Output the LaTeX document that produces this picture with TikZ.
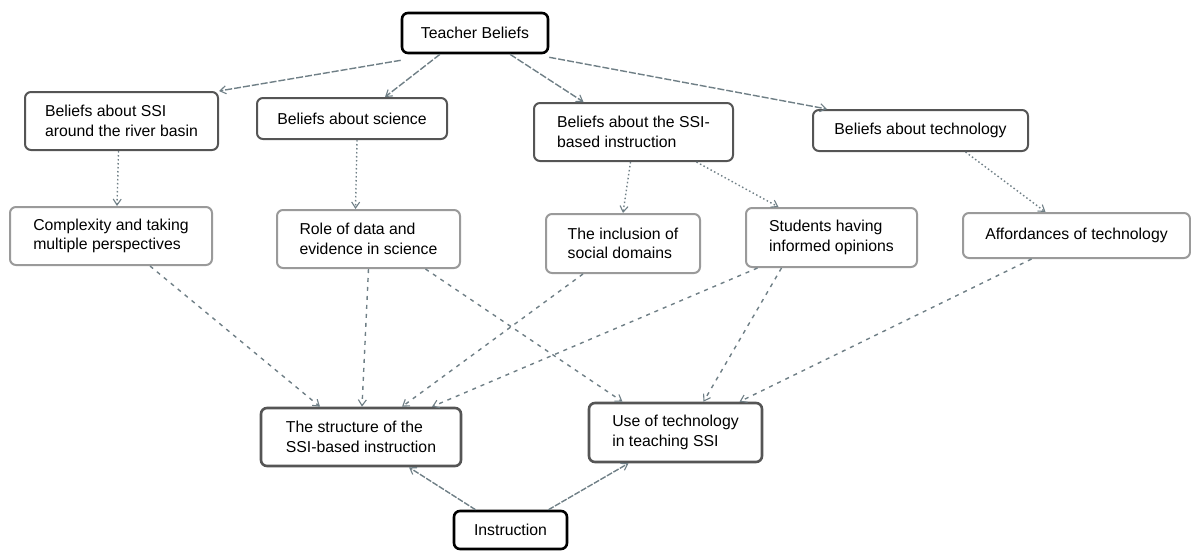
\documentclass[tikz,border=0pt]{standalone}
\usepackage{fontspec}
\setmainfont{Liberation Sans}
\usetikzlibrary{arrows.meta}
\definecolor{arrowc}{HTML}{6F7F86}
\definecolor{darkb}{HTML}{555555}
\definecolor{lightb}{HTML}{9A9A9A}
\tikzset{
  box/.style={draw, rounded corners=6pt, fill=white, align=left, inner sep=0pt,
    font=\fontsize{15.8}{19.5}\selectfont},
  mainbox/.style={box, draw=black, line width=2.6pt},
  beliefbox/.style={box, draw=darkb, line width=2pt},
  subbox/.style={box, draw=lightb, line width=2pt},
  outbox/.style={box, draw=darkb, line width=2.6pt},
  conn/.style={draw=arrowc, line width=1.4pt, -{Straight Barb[length=6pt,width=8pt,line width=1.1pt]}},
  topconn/.style={conn, dash pattern=on 7pt off 2pt},
  dotconn/.style={conn, dash pattern=on 1.5pt off 2.5pt},
  lowconn/.style={conn, dash pattern=on 4pt off 5pt},
}
\begin{document}
\begin{tikzpicture}[x=1pt,y=-1pt]
\useasboundingbox (0,0) rectangle (1191,550);
\node[mainbox, minimum width=146pt, minimum height=40pt] (tb) at (475,33) {Teacher Beliefs};
\node[beliefbox, minimum width=193pt, minimum height=58pt] (bssi) at (121.5,121) {Beliefs about SSI\\around the river basin};
\node[beliefbox, minimum width=190pt, minimum height=41pt] (bsci) at (352,118.5) {Beliefs about science};
\node[beliefbox, minimum width=199pt, minimum height=58pt] (binst) at (633.5,132) {Beliefs about the SSI-\\based instruction};
\node[beliefbox, minimum width=215pt, minimum height=41pt] (btech) at (920.5,130.5) {Beliefs about technology};
\node[subbox, minimum width=202pt, minimum height=58pt] (comp) at (111,236) {Complexity and taking\\multiple perspectives};
\node[subbox, minimum width=183pt, minimum height=58pt] (role) at (368.5,239) {Role of data and\\evidence in science};
\node[subbox, minimum width=154pt, minimum height=59pt] (incl) at (623,243.5) {The inclusion of\\social domains};
\node[subbox, minimum width=171pt, minimum height=59pt] (stud) at (831.5,237.5) {Students having\\informed opinions};
\node[subbox, minimum width=227pt, minimum height=45pt] (aff) at (1076.5,235.5) {Affordances of technology};
\node[outbox, minimum width=200pt, minimum height=58pt] (struct) at (361,437) {The structure of the\\SSI-based instruction};
\node[outbox, minimum width=173pt, minimum height=59pt] (use) at (675.5,432.5) {Use of technology\\in teaching SSI};
\node[mainbox, minimum width=113pt, minimum height=38pt] (instr) at (510.5,530) {Instruction};
% top connectors
\draw[topconn] ([yshift=-6pt]tb.south west) -- (bssi.north east);
\draw[topconn] ([xshift=-35pt]tb.south) -- ([xshift=33pt]bsci.north);
\draw[topconn] ([xshift=35pt]tb.south) -- ([xshift=-50pt]binst.north);
\draw[topconn] ([yshift=-3pt]tb.south east) -- ([xshift=15pt]btech.north west);
% dotted connectors
\draw[dotconn] ([xshift=-3pt]bssi.south) -- ([xshift=6pt]comp.north);
\draw[dotconn] ([xshift=5pt]bsci.south) -- ([xshift=-13pt]role.north);
\draw[dotconn] ([xshift=-3pt]binst.south) -- (incl.north);
\draw[dotconn] ([xshift=63pt]binst.south) -- ([xshift=-53pt]stud.north);
\draw[dotconn] ([xshift=45pt]btech.south) -- ([xshift=-31pt]aff.north);
% lower connectors
\draw[lowconn] ([xshift=39pt]comp.south) -- ([xshift=-41pt]struct.north);
\draw[lowconn] ([xshift=0pt]role.south) -- ([xshift=1pt]struct.north);
\draw[lowconn] ([xshift=-40pt]incl.south) -- ([xshift=41pt]struct.north);
\draw[lowconn] ([xshift=-74pt]stud.south) -- ([xshift=71pt]struct.north);
\draw[lowconn] ([xshift=57pt]role.south) -- ([xshift=-53pt]use.north);
\draw[lowconn] ([xshift=-50pt]stud.south) -- ([xshift=28pt]use.north);
\draw[lowconn] ([xshift=-45pt]aff.south) -- ([xshift=64pt]use.north);
% instruction connectors
\draw[conn, dash pattern=on 6pt off 1.5pt] ([xshift=-35pt]instr.north) -- ([xshift=48pt]struct.south);
\draw[conn, dash pattern=on 6pt off 1.5pt] ([xshift=38pt]instr.north) -- ([xshift=-47pt]use.south);
\end{tikzpicture}
\end{document}
